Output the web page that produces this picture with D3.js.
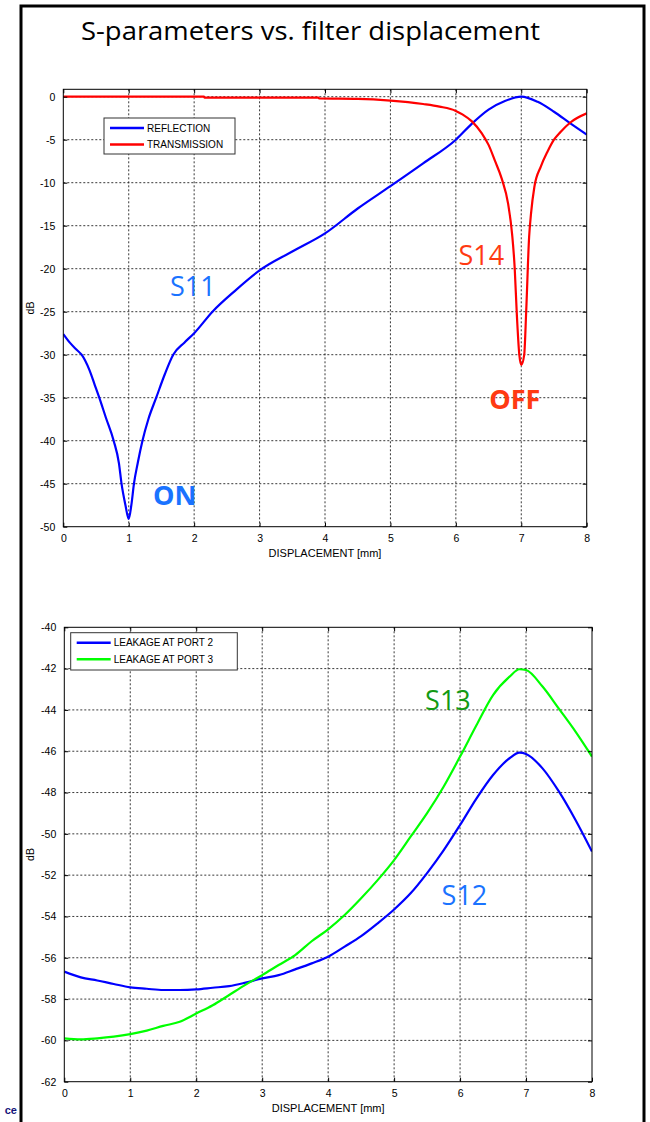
<!DOCTYPE html>
<html><head><meta charset="utf-8">
<script src="https://cdn.jsdelivr.net/npm/d3@7/dist/d3.min.js"></script>
<style>
html,body{margin:0;padding:0;background:#fff;}
svg{display:block;}
</style></head>
<body>
<script>
// ---------- DATA ----------
const titleText = "S-parameters vs. filter displacement";
const xTicks = [0,1,2,3,4,5,6,7,8];
const topYTicks = [0,-5,-10,-15,-20,-25,-30,-35,-40,-45,-50];
const botYTicks = [-40,-42,-44,-46,-48,-50,-52,-54,-56,-58,-60,-62];
const xLabel = "DISPLACEMENT [mm]";
const yLabel = "dB";

// S11 reflection
const s11X = [0,0.1,0.2,0.28,0.4,0.48,0.55,0.65,0.77,0.85,0.89,0.95,1.0,1.04,1.08,1.14,1.21,1.3,1.42,1.55,1.68,1.85,2.0,2.28,2.62,3.0,3.5,4.0,4.5,5.0,5.5,6.0,6.25,6.5,6.75,7.0,7.25,7.5,7.75,8.0];
const s11Y = [-27.6,-28.6,-29.4,-30.0,-31.8,-33.5,-35.0,-37.3,-40.0,-42.6,-45.0,-47.5,-49.1,-47.5,-45.0,-42.5,-40.0,-37.5,-35.0,-32.3,-30.0,-28.6,-27.5,-25.0,-22.6,-20.2,-18.0,-15.9,-13.0,-10.4,-7.75,-5.0,-3.1,-1.5,-0.5,0,-0.6,-1.75,-3.1,-4.4];
// S14 transmission
const s14X = [0,2.15,2.16,3.9,3.91,4.5,5.0,5.5,5.75,6.0,6.1,6.25,6.4,6.5,6.6,6.7,6.8,6.86,6.9,6.93,6.97,7.0,7.045,7.075,7.12,7.15,7.2,7.3,7.4,7.5,7.6,7.75,8.0];
const s14Y = [0,0,-0.1,-0.1,-0.2,-0.25,-0.45,-0.85,-1.15,-1.65,-2.05,-2.9,-4.3,-5.6,-7.5,-9.5,-12.5,-16.0,-20.0,-25.0,-30.0,-31.2,-30.0,-25.0,-16.3,-13.5,-10.5,-8.1,-6.4,-5.0,-4.1,-3.0,-1.94];
// S12 leakage port 2
const s12X = [0,0.25,0.5,0.75,1,1.25,1.5,1.75,2,2.25,2.5,2.75,3,3.25,3.5,3.75,4,4.25,4.5,4.75,5,5.25,5.5,5.75,6,6.25,6.5,6.75,6.9,7,7.25,7.5,7.75,8];
const s12Y = [-56.67,-56.95,-57.1,-57.27,-57.43,-57.5,-57.56,-57.56,-57.53,-57.45,-57.37,-57.2,-57.0,-56.84,-56.56,-56.27,-55.95,-55.46,-54.95,-54.33,-53.66,-52.88,-51.9,-50.8,-49.57,-48.28,-47.15,-46.34,-46.07,-46.13,-46.83,-47.96,-49.33,-50.86];
// S13 leakage port 3
const s13X = [0,0.25,0.5,0.75,1,1.25,1.5,1.75,2,2.25,2.5,2.75,3,3.25,3.5,3.75,4,4.25,4.5,4.75,5,5.25,5.5,5.75,6,6.25,6.5,6.75,6.9,7,7.25,7.5,7.75,8];
const s13Y = [-59.9,-59.95,-59.9,-59.82,-59.7,-59.53,-59.3,-59.1,-58.7,-58.3,-57.8,-57.3,-56.84,-56.35,-55.87,-55.2,-54.62,-53.93,-53.12,-52.24,-51.27,-50.14,-49.0,-47.72,-46.26,-44.73,-43.28,-42.39,-42.03,-42.07,-42.87,-43.95,-45.05,-46.26];

const topLegend = ["REFLECTION","TRANSMISSION"];
const botLegend = ["LEAKAGE AT PORT 2","LEAKAGE AT PORT 3"];
const topNotes = [
  {t:"S11", x:1.63, y:-23.2, c:"#1a73ff", w:"normal"},
  {t:"ON",  x:1.37, y:-47.5, c:"#1a73ff", w:"bold"},
  {t:"S14", x:6.04, y:-19.6, c:"#ff3a12", w:"normal"},
  {t:"OFF", x:6.51, y:-36.3, c:"#ff3a12", w:"bold"}
];
const botNotes = [
  {t:"S13", x:5.47, y:-44.0, c:"#139a13", w:"normal"},
  {t:"S12", x:5.72, y:-53.45, c:"#1a73ff", w:"normal"}
];

// ---------- DRAW ----------
const W = 650, H = 1122;
const svg = d3.select("body").append("svg").attr("width", W).attr("height", H);
svg.append("rect").attr("width", W).attr("height", H).attr("fill", "#fff");

// frame
svg.append("path").attr("d", `M21,${H+5} L21,6 L644,6 L644,${H+5}`)
  .attr("fill","none").attr("stroke","#000").attr("stroke-width",3);

svg.append("text").attr("x", 81).attr("y", 40)
  .attr("font-family","'Comic Sans MS','Open Sans',sans-serif").attr("font-size",25)
  .attr("textLength",459).attr("lengthAdjust","spacingAndGlyphs")
  .attr("fill","#000").text(titleText);

svg.append("text").attr("x",17).attr("y",1114).attr("text-anchor","end")
  .attr("font-family","Liberation Sans, Arial, sans-serif").attr("font-size",11)
  .attr("font-weight","bold").attr("fill","#14147a").text("ce");

const axisFont = "'Liberation Sans', Arial, sans-serif";

function panel(cfg) {
  const x = d3.scaleLinear().domain([0,8]).range([cfg.left, cfg.right]);
  const y = d3.scaleLinear().domain(cfg.yDom).range([cfg.bottom, cfg.yRangeTop]);
  const top = y(cfg.yMax);
  const g = svg.append("g");
  // grid
  const gx = xTicks.filter(v => v>0 && v<8);
  g.selectAll(".gv").data(gx).join("line")
    .attr("x1", d=>x(d)).attr("x2", d=>x(d)).attr("y1", top).attr("y2", cfg.bottom)
    .attr("stroke","#222").attr("stroke-width",0.9).attr("stroke-dasharray","2,2");
  const gy = cfg.yTicks.filter(v => y(v) > top+1 && y(v) < cfg.bottom-1);
  g.selectAll(".gh").data(gy).join("line")
    .attr("x1", cfg.left).attr("x2", cfg.right).attr("y1", d=>y(d)).attr("y2", d=>y(d))
    .attr("stroke","#222").attr("stroke-width",0.9).attr("stroke-dasharray","2,2");

  // series
  const clipId = "clip" + cfg.id;
  svg.append("clipPath").attr("id", clipId).append("rect")
    .attr("x", cfg.left).attr("y", top).attr("width", cfg.right-cfg.left).attr("height", cfg.bottom-top);
  const line = d3.line().x(d=>x(d[0])).y(d=>y(d[1])).curve(d3.curveMonotoneX);
  cfg.series.forEach(s => {
    g.append("path").datum(d3.zip(s.x, s.y)).attr("d", line)
      .attr("fill","none").attr("stroke", s.color).attr("stroke-width",2.2)
      .attr("stroke-linejoin","round").attr("clip-path", `url(#${clipId})`);
  });

  // axes (ticks inside, all sides)
  const tl = 4;
  const axB = d3.axisBottom(x).tickValues(xTicks).tickSize(-tl).tickPadding(8).tickFormat(d3.format("d"));
  const axT = d3.axisTop(x).tickValues(xTicks).tickSize(-tl).tickFormat("");
  const axL = d3.axisLeft(y).tickValues(cfg.yTicks).tickSize(-tl).tickPadding(8).tickFormat(d=>String(d));
  const axR = d3.axisRight(y).tickValues(cfg.yTicks).tickSize(-tl).tickFormat("");
  [[axB,`translate(0,${cfg.bottom})`],[axT,`translate(0,${top})`],[axL,`translate(${cfg.left},0)`],[axR,`translate(${cfg.right},0)`]]
    .forEach(([ax,tr]) => {
      const a = g.append("g").attr("transform", tr).call(ax);
      a.select(".domain").remove();
      a.selectAll(".tick line").attr("stroke","#000");
      a.selectAll("text").attr("font-family", axisFont).attr("font-size",10.5).attr("fill","#000");
    });
  g.append("rect").attr("x",cfg.left).attr("y",top).attr("width",cfg.right-cfg.left).attr("height",cfg.bottom-top)
    .attr("fill","none").attr("stroke","#000").attr("stroke-width",1);

  g.append("text").attr("x",(cfg.left+cfg.right)/2).attr("y",cfg.bottom+30)
    .attr("text-anchor","middle").attr("font-family",axisFont).attr("font-size",11).text(xLabel);
  g.append("text").attr("transform",`translate(34,${(top+cfg.bottom)/2}) rotate(-90)`)
    .attr("text-anchor","middle").attr("font-family",axisFont).attr("font-size",10.5).text(yLabel);

  // legend
  const L = cfg.legend;
  g.append("rect").attr("x",L.x).attr("y",L.y).attr("width",L.w).attr("height",L.h)
    .attr("fill","#fff").attr("stroke","#333").attr("stroke-width",1);
  cfg.series.forEach((s,i) => {
    const yy = L.y + L.row0 + i*L.dy;
    g.append("line").attr("x1",L.x+6).attr("x2",L.x+40).attr("y1",yy).attr("y2",yy)
      .attr("stroke",s.color).attr("stroke-width",2.5);
    g.append("text").attr("x",L.x+43).attr("y",yy+3.6).attr("font-family",axisFont)
      .attr("font-size",10).attr("fill","#000").text(s.name);
  });

  // annotations
  cfg.notes.forEach(n => {
    g.append("text").attr("x", x(n.x)).attr("y", y(n.y))
      .attr("font-family","'Comic Sans MS','Open Sans',sans-serif").attr("font-size",27)
      .attr("font-weight",n.w).attr("fill",n.c).text(n.t);
  });
}

panel({
  id:"top", left:63.3, right:586.7, bottom:526.7, yRangeTop:96.7, yDom:[-50,0], yMax:0.86,
  yTicks: topYTicks,
  series:[{x:s11X,y:s11Y,color:"#0000ff",name:topLegend[0]},{x:s14X,y:s14Y,color:"#ff0000",name:topLegend[1]}],
  legend:{x:104,y:118,w:131,h:36,row0:10,dy:16.5},
  notes: topNotes
});
panel({
  id:"bot", left:64.3, right:592, bottom:1081.7, yRangeTop:627.3, yDom:[-62,-40], yMax:-40,
  yTicks: botYTicks,
  series:[{x:s12X,y:s12Y,color:"#0000ff",name:botLegend[0]},{x:s13X,y:s13Y,color:"#00ff00",name:botLegend[1]}],
  legend:{x:70.7,y:632.7,w:166.6,h:37.3,row0:10,dy:16.6},
  notes: botNotes
});
</script>
</body></html>
